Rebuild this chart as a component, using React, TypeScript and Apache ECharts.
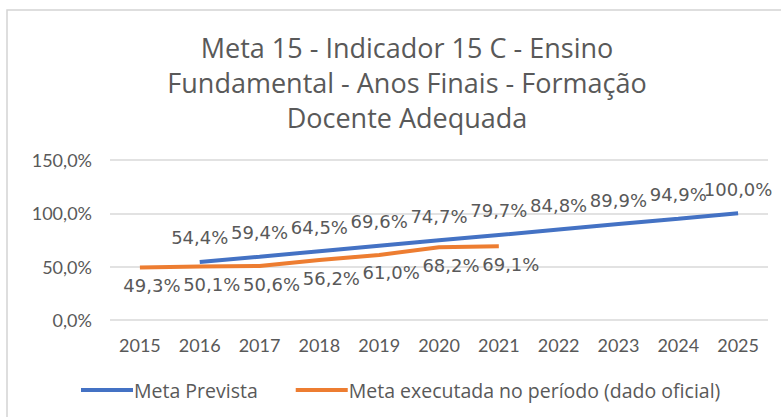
import React, { useEffect, useRef } from "react";
import * as echarts from "echarts";

const years = ["2015", "2016", "2017", "2018", "2019", "2020", "2021", "2022", "2023", "2024", "2025"];
const metaPrevista = [null, 54.4, 59.4, 64.5, 69.6, 74.7, 79.7, 84.8, 89.9, 94.9, 100.0];
const metaExecutada = [49.3, 50.1, 50.6, 56.2, 61.0, 68.2, 69.1, null, null, null, null];
const seriesNames = ["Meta Prevista", "Meta executada no período (dado oficial)"];
const titleText = "Meta 15 - Indicador 15 C - Ensino\nFundamental - Anos Finais - Formação\nDocente Adequada";

const FONT = "Lato, 'Open Sans', sans-serif";
const WIDE = "'Open Sans', Lato, sans-serif";
const LABEL_FONT = "'DejaVu Sans', Verdana, sans-serif";
const TEXT = "#595959";
const fmt = (v: number) => v.toFixed(1).replace(".", ",") + "%";

export default function App() {
  const ref = useRef<HTMLDivElement>(null);
  useEffect(() => {
    if (!ref.current) return;
    const chart = echarts.init(ref.current, null, { renderer: "svg" });
    chart.setOption({
      animation: false,
      backgroundColor: "#ffffff",
      graphic: [
        {
          type: "rect",
          shape: { x: 7, y: 10, width: 820, height: 460 },
          style: { fill: "none", stroke: "#d4d4d4", lineWidth: 1.5 },
          silent: true,
        },
      ],
      title: {
        text: titleText,
        left: 402,
        top: 25,
        textAlign: "center",
        textStyle: {
          fontFamily: WIDE,
          fontSize: 27,
          fontWeight: "normal",
          color: TEXT,
          lineHeight: 35,
        },
      },
      grid: { left: 110, right: 13, top: 160, bottom: 97, containLabel: false },
      legend: {
        data: seriesNames,
        left: 76,
        top: 375,
        itemWidth: 52,
        itemHeight: 4,
        itemGap: 38,
        icon: "rect",
        textStyle: { fontFamily: WIDE, fontSize: 19.5, color: TEXT, padding: [0, 0, 0, -4] },
      },
      xAxis: {
        type: "category",
        data: years,
        boundaryGap: true,
        axisLine: { show: false },
        axisTick: { show: false },
        axisLabel: { fontFamily: FONT, fontSize: 18, color: TEXT, margin: 16 },
      },
      yAxis: {
        type: "value",
        min: 0,
        max: 150,
        interval: 50,
        axisLine: { show: false },
        axisTick: { show: false },
        splitLine: { lineStyle: { color: "#d9d9d9", width: 1.5 } },
        axisLabel: {
          fontFamily: FONT,
          fontSize: 18,
          color: TEXT,
          margin: 18,
          formatter: (v: number) => fmt(v),
        },
      },
      series: [
        {
          name: seriesNames[0],
          type: "line",
          data: metaPrevista,
          color: "#4472C4",
          lineStyle: { width: 4, color: "#4472C4" },
          symbol: "circle",
          symbolSize: 0,
          showSymbol: true,
          label: {
            show: true,
            position: "top",
            distance: 15,
            fontFamily: LABEL_FONT,
            fontSize: 18,
            color: TEXT,
            formatter: (p: any) => fmt(p.value),
          },
        },
        {
          name: seriesNames[1],
          type: "line",
          data: metaExecutada,
          color: "#ED7D31",
          lineStyle: { width: 4, color: "#ED7D31" },
          symbol: "circle",
          symbolSize: 0,
          showSymbol: true,
          label: {
            show: true,
            position: "bottom",
            distance: 9,
            offset: [12, 0],
            fontFamily: LABEL_FONT,
            fontSize: 18,
            color: TEXT,
            formatter: (p: any) => fmt(p.value),
          },
        },
      ],
    });
    return () => chart.dispose();
  }, []);
  return (
    <div
      ref={ref}
      style={{ position: "absolute", left: 0, top: 0, width: 781, height: 417 }}
    />
  );
}
